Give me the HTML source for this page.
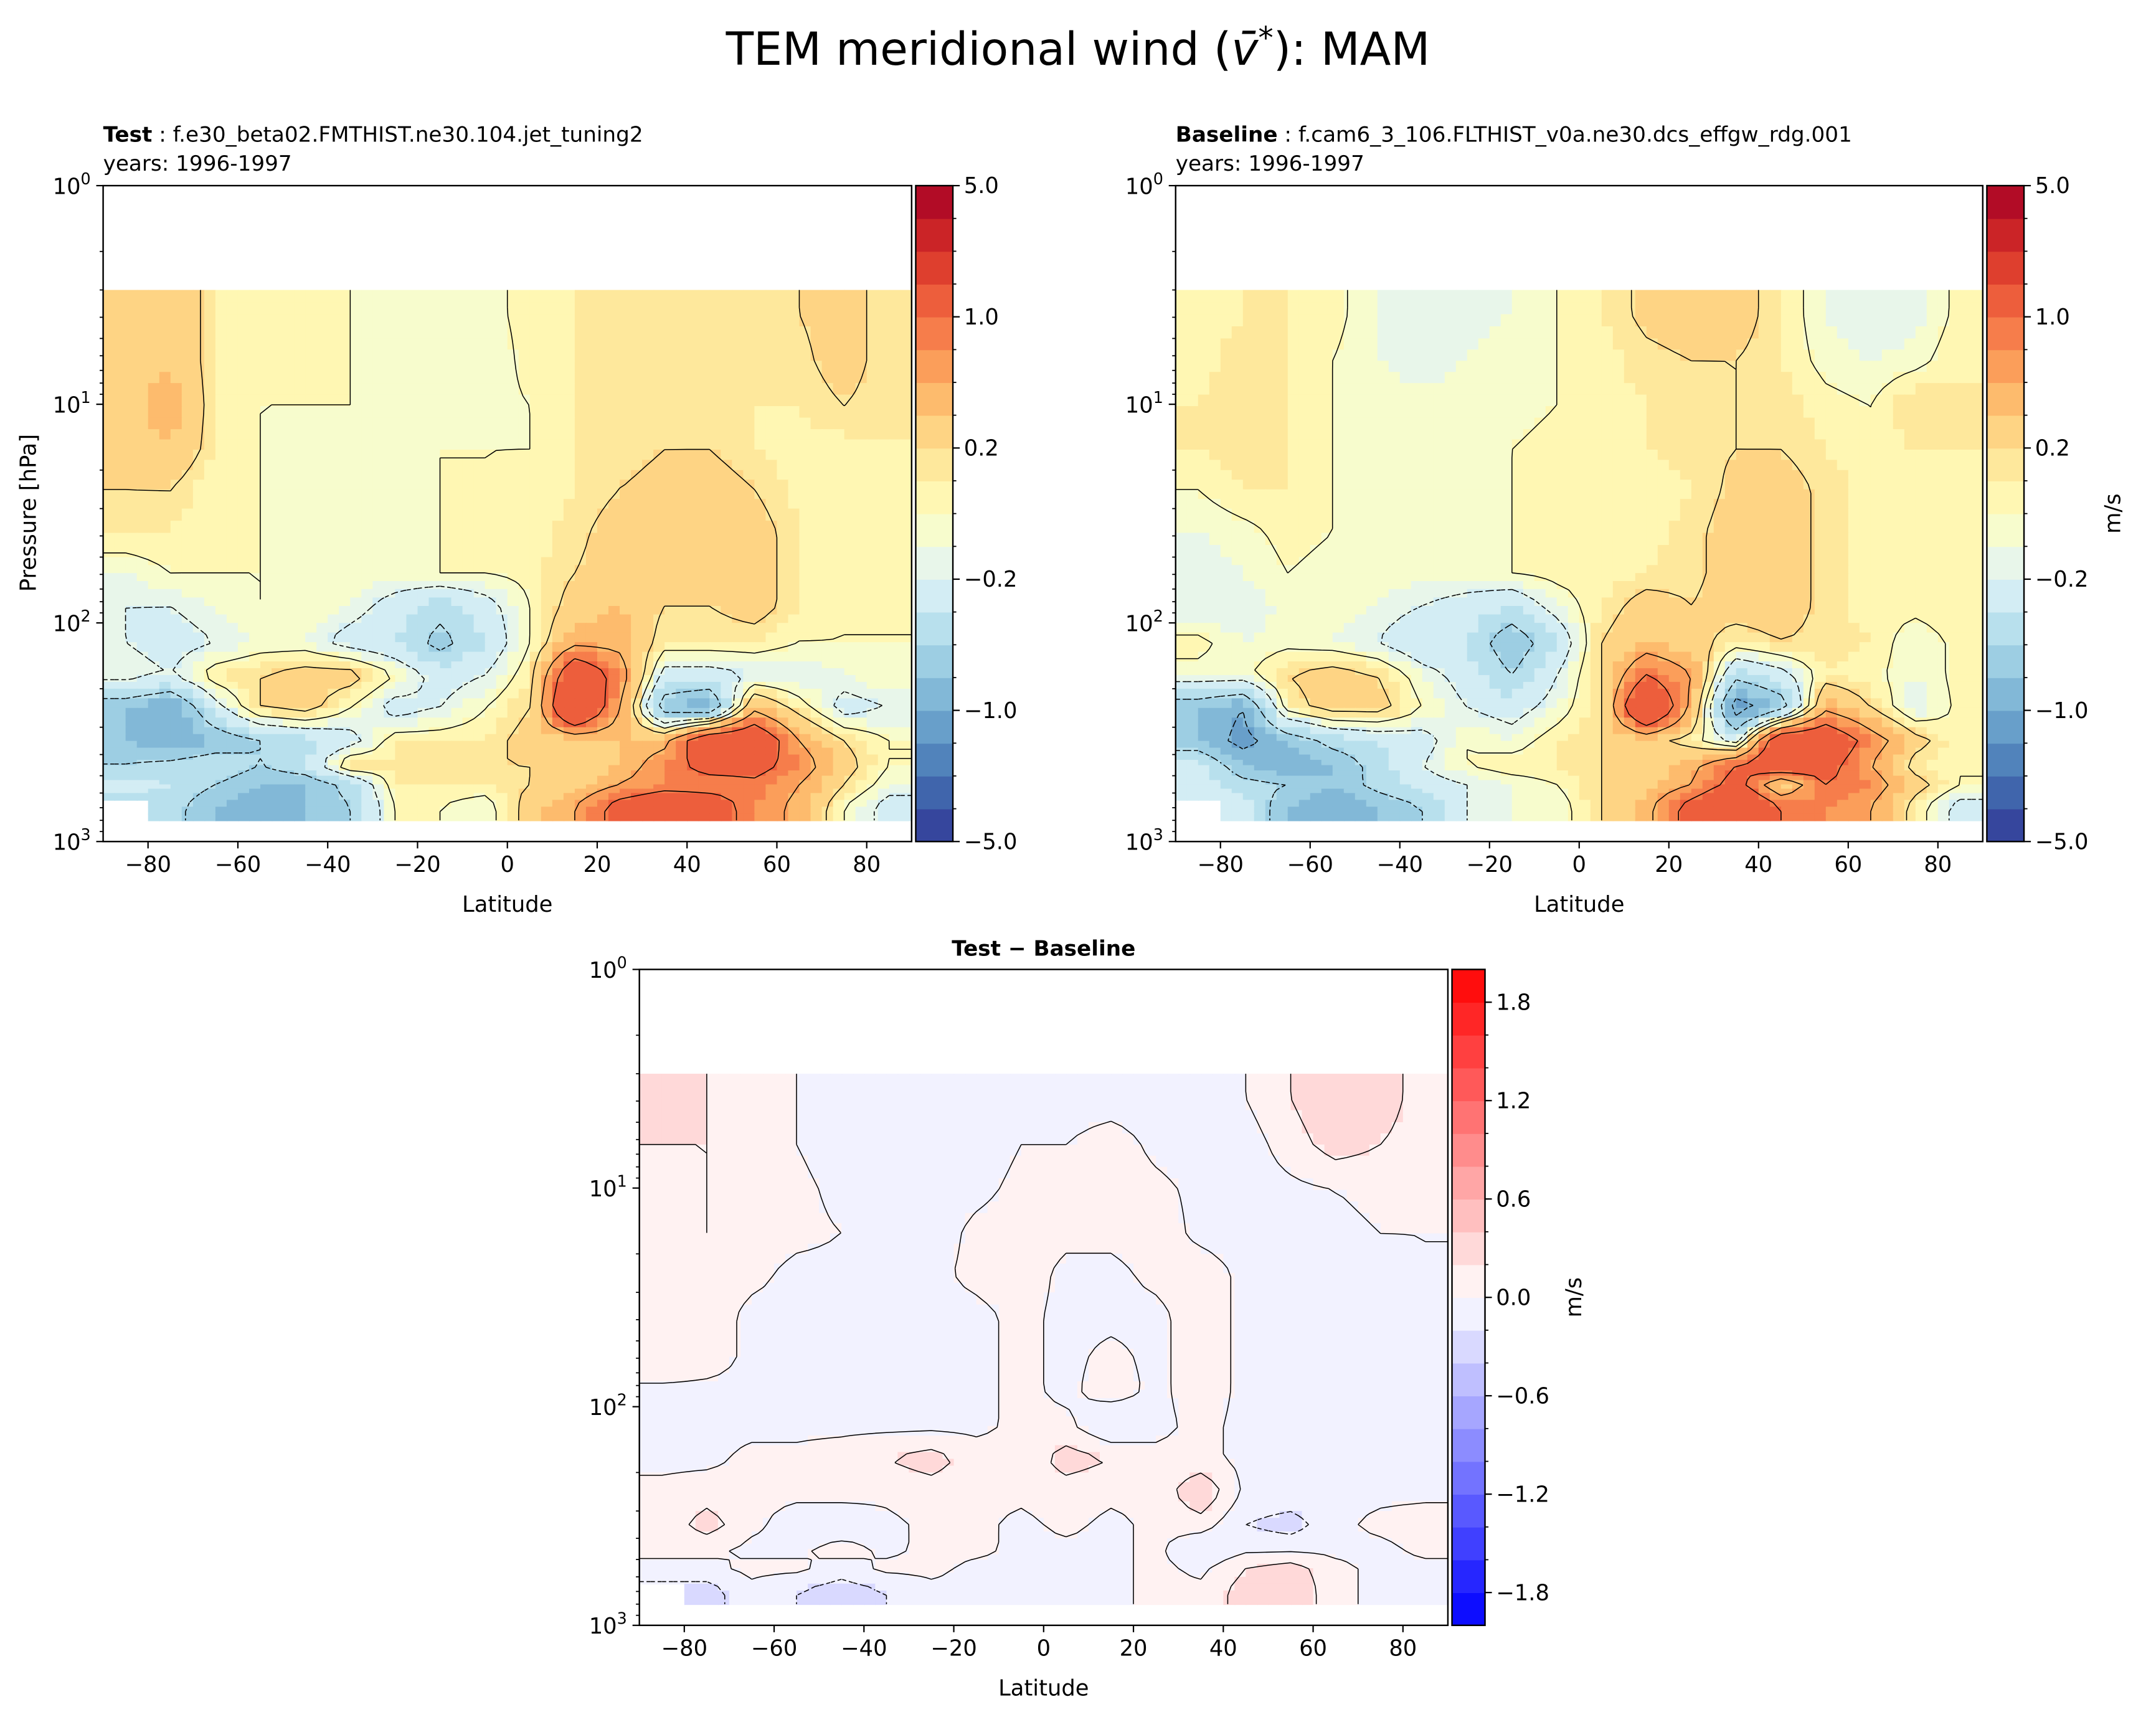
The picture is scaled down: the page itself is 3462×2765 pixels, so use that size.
<!DOCTYPE html>
<html><head><meta charset="utf-8"><style>
html,body{margin:0;padding:0;background:#fff;}
svg{display:block;font-family:"DejaVu Sans","Liberation Sans",sans-serif;}
</style></head><body>
<svg id="fig" width="3462" height="2765" viewBox="0 0 1568 1252.3" preserveAspectRatio="none" xmlns="http://www.w3.org/2000/svg">
<text x="784" y="47" font-size="33" text-anchor="middle">TEM meridional wind (<tspan font-style="italic">v̄</tspan><tspan dy="-12" font-size="22">*</tspan><tspan dy="12">): MAM</tspan></text>
<text x="75" y="103" font-size="15.5"><tspan font-weight="bold">Test</tspan> : f.e30_beta02.FMTHIST.ne30.104.jet_tuning2</text>
<text x="75" y="124" font-size="15.5">years: 1996-1997</text>
<text x="855" y="103" font-size="15.5"><tspan font-weight="bold">Baseline</tspan> : f.cam6_3_106.FLTHIST_v0a.ne30.dcs_effgw_rdg.001</text>
<text x="855" y="124" font-size="15.5">years: 1996-1997</text>
<text x="759" y="695" font-size="15.5" font-weight="bold" text-anchor="middle">Test − Baseline</text>
<g id="layer"></g>
</svg>
<script>
// ---- data ----
const lats = [-85,-75,-65,-55,-45,-35,-25,-15,-5,5,15,25,35,45,55,65,75,85];
const pEdges = [3,5,8,13,20,30,50,70,100,150,200,300,400,500,600,800];
const testVals = [
[0.3,0.4,0.1,0,0,0,-0.1,-0.1,-0.05,0.05,0.1,0.1,0.1,0.1,0.1,0.2,0.3,0.1],
[0.3,0.4,0.1,0,0,0,-0.05,-0.1,-0.1,0.05,0.1,0.1,0.1,0.1,0.1,0.15,0.3,0.1],
[0.3,0.5,0.1,0,0,0,0,-0.05,-0.05,0,0.1,0.1,0.15,0.15,0.1,0.1,0.2,0.1],
[0.3,0.4,0.1,0,-0.05,-0.05,-0.05,0,0,0,0.1,0.15,0.2,0.2,0.1,0.05,0.05,0.1],
[0.2,0.2,0,0,-0.05,-0.05,-0.05,0,0,0.05,0.1,0.2,0.25,0.3,0.2,0.05,0,0.05],
[0.1,0.1,0,0,-0.05,-0.05,-0.05,0,0,0.05,0.15,0.3,0.3,0.3,0.3,0.1,0,0],
[-0.1,0,0,0,-0.05,-0.05,-0.05,0,0,0.05,0.2,0.3,0.3,0.3,0.3,0.1,0,0],
[-0.2,-0.2,-0.1,0,0,-0.1,-0.3,-0.5,-0.3,0,0.3,0.4,0.2,0.2,0.3,0.1,0,0],
[-0.2,-0.3,-0.2,-0.1,-0.1,-0.3,-0.4,-0.7,-0.4,0,0.5,0.5,0.1,0.1,0.1,0,0,0],
[-0.1,-0.2,0.1,0.2,0.3,0.3,0,-0.3,-0.2,0.1,1.5,0.8,-0.3,-0.3,-0.2,-0.2,-0.1,0],
[-0.8,-1,-0.3,0.2,0.3,0,-0.3,-0.2,0,0.2,1.8,0.6,-0.8,-1.0,0.5,0.1,-0.3,-0.2],
[-0.8,-1,-0.8,-0.6,-0.5,-0.3,0.1,0.1,0.1,0.3,0.3,0.4,0.5,1.5,1.5,0.6,0.2,0],
[-0.6,-0.5,-0.4,-0.6,-0.4,0.2,0.1,0.2,0.2,0.2,0.2,0.4,0.8,1.2,1.2,0.8,0.3,0],
[-0.3,-0.4,-0.6,-0.8,-0.8,-0.5,0.1,0.1,0.1,0.2,0.3,0.6,0.8,0.8,0.9,0.6,0.2,-0.1],
[null,-0.5,-0.8,-1,-0.8,-0.6,0,0,-0.1,0.3,0.6,1.2,1.5,1.3,0.8,0.5,0,-0.3]
];
const baseVals = [
[0.05,0.1,0.1,0.05,-0.1,-0.15,-0.15,-0.1,0,0.1,0.25,0.3,0.3,0.1,-0.1,-0.2,-0.15,0.05],
[0.05,0.15,0.1,0,-0.1,-0.15,-0.1,-0.05,0,0.05,0.15,0.2,0.2,0.1,-0.05,-0.1,-0.05,0.1],
[0.1,0.2,0.1,0,-0.05,-0.05,-0.05,-0.05,0,0.05,0.1,0.15,0.2,0.15,0.05,0,0.2,0.1],
[0.1,0.15,0.1,0,-0.05,-0.05,-0.05,0,0.05,0.05,0.1,0.15,0.2,0.2,0.1,0.05,0.1,0.1],
[0,0.1,0.1,0,-0.05,-0.05,-0.05,0,0.05,0.05,0.05,0.1,0.25,0.3,0.15,0.05,0,0.05],
[-0.1,-0.05,0.05,0,-0.05,-0.05,-0.05,0,0.05,0.05,0.05,0.15,0.3,0.3,0.15,0.05,0,0.05],
[-0.2,-0.1,0,-0.05,-0.05,-0.05,-0.05,0,0.05,0.05,0.1,0.15,0.3,0.3,0.15,0.05,0.05,0.1],
[-0.2,-0.2,-0.05,-0.05,-0.1,-0.2,-0.3,-0.4,-0.1,0.1,0.3,0.2,0.3,0.3,0.15,0.05,0.05,0.1],
[0.05,-0.1,-0.05,-0.1,-0.2,-0.4,-0.4,-0.8,-0.4,0.2,0.4,0.3,0.1,0.2,0.15,0.1,-0.1,0.05],
[-0.05,-0.05,0.2,0.3,0.2,-0.1,-0.3,-0.6,-0.2,0.2,1.0,0.6,-0.5,-0.3,0.1,0.05,-0.1,0.05],
[-0.8,-1.0,0.1,0.3,0.3,0,-0.2,-0.3,-0.1,0.2,1.8,0.5,-1.2,-0.8,0.5,0.2,-0.2,0.05],
[-0.8,-1.1,-0.8,-0.5,-0.4,-0.3,0,-0.1,0.1,0.2,0.3,0.1,-0.3,1.5,1.5,0.8,0.3,0],
[-0.3,-0.8,-1,-0.8,-0.5,-0.2,0,0.1,0.1,0.2,0.3,0.5,1.0,1.5,1.2,0.6,0.1,0],
[-0.3,-0.5,-0.6,-0.8,-0.5,-0.3,-0.2,-0.1,0,0.2,0.3,0.6,1.2,0.2,1.0,0.8,0.3,0],
[null,-0.3,-0.8,-1,-0.8,-0.6,-0.2,-0.1,-0.1,0.2,0.5,1.2,1.8,1.0,0.8,0.6,0.1,-0.3]
];
const diffVals = [
[0.2,0.2,0,0,-0.1,-0.1,-0.1,-0.1,-0.1,-0.1,-0.1,-0.1,-0.1,0,0.2,0.4,0.3,0.1],
[0.2,0.2,0.1,0,-0.1,-0.1,-0.1,-0.1,0,0,0.1,-0.05,-0.1,-0.1,0.1,0.3,0.2,0.1],
[0.1,0.2,0.1,0.05,-0.05,-0.1,-0.1,-0.05,0.05,0.05,0.1,0.05,-0.05,-0.1,-0.05,0,0.05,0.1],
[0.1,0.2,0.1,0.05,0,-0.05,-0.1,0.05,0.1,0.05,0.05,0.1,-0.05,-0.1,-0.05,-0.05,0,0],
[0.1,0.1,0.05,-0.05,-0.05,-0.05,-0.05,0.05,0.1,-0.05,-0.05,0.05,0.1,-0.05,-0.05,-0.05,-0.05,0],
[0.1,0.1,-0.05,-0.05,-0.05,-0.05,-0.05,-0.05,0.05,-0.05,-0.05,-0.05,0.1,-0.05,-0.05,-0.05,-0.05,-0.05],
[0.2,0.1,-0.05,-0.05,-0.05,-0.05,-0.05,-0.05,0.05,-0.05,0.05,-0.05,0.1,-0.05,-0.05,-0.05,-0.05,-0.05],
[-0.05,-0.05,-0.05,-0.05,-0.05,-0.05,-0.05,-0.05,0.05,-0.05,0.1,-0.05,0.1,-0.05,-0.05,-0.05,-0.05,-0.05],
[-0.05,-0.05,-0.05,-0.05,-0.05,-0.05,-0.05,-0.05,0.05,0.05,-0.2,-0.05,0.05,-0.05,-0.05,-0.05,-0.05,-0.05],
[-0.05,-0.05,0.05,0.05,0.1,0.2,0.3,0.1,0.05,0.3,0.2,0.05,0.05,-0.05,-0.05,-0.05,-0.05,-0.05],
[0.05,0.1,0.05,0.05,0.1,0.05,0.1,0.05,0.05,0.1,0.05,0.05,0.4,-0.05,-0.05,-0.05,-0.05,-0.05],
[0.05,0.3,0.05,-0.1,-0.2,-0.05,0.05,0.05,-0.05,0.05,-0.05,0.05,0.1,-0.2,-0.3,-0.05,0.05,0.1],
[0.05,0.05,-0.05,-0.05,0.1,-0.05,0.05,0.05,-0.05,-0.05,-0.05,0.05,-0.2,-0.05,-0.05,-0.05,-0.05,0.05],
[-0.05,-0.05,0.05,0.05,-0.1,0.05,0.05,-0.05,-0.05,-0.05,-0.05,0.05,-0.05,0.2,0.3,0.05,-0.05,-0.05],
[null,-0.3,-0.05,-0.2,-0.3,-0.2,-0.05,-0.05,-0.05,-0.05,-0.05,0.05,0.05,0.3,0.4,0.05,-0.05,-0.05]
];
const mainTicks = [-5,-1,-0.2,0.2,1,5];
const mainTickLabels = ["−5.0","−1.0","−0.2","0.2","1.0","5.0"];
const mainContourLevels = [-1,-0.6,-0.2,0,0.2,0.6,1];
const diffTicks = [-1.8,-1.2,-0.6,0,0.6,1.2,1.8];
const diffTickLabels = ["−1.8","−1.2","−0.6","0.0","0.6","1.2","1.8"];
const diffContourLevels = [-0.2,0,0.2];
const latTicks = [-80,-60,-40,-20,0,20,40,60,80];

// ---- helpers ----
const NS="http://www.w3.org/2000/svg";
const layer=document.getElementById('layer');
function mk(tag,attrs,parent){const e=document.createElementNS(NS,tag);for(const k in attrs)e.setAttribute(k,attrs[k]);(parent||layer).appendChild(e);return e;}
function lerpC(stops,t){t=Math.max(0,Math.min(1,t));const n=stops.length-1;const i=Math.min(n-1,Math.floor(t*n));const f=t*n-i;const a=stops[i],b=stops[i+1];
 return 'rgb('+[0,1,2].map(k=>Math.round(a[k]+(b[k]-a[k])*f)).join(',')+')';}
const rdylbu=[[49,54,149],[69,117,180],[116,173,209],[171,217,233],[224,243,248],[255,255,191],[254,224,144],[253,174,97],[244,109,67],[215,48,39],[165,0,38]];
const bwr=[[0,0,255],[255,255,255],[255,0,0]];
function mainPos(v){
 for(let i=0;i<mainTicks.length-1;i++){if(v<=mainTicks[i+1]||i==mainTicks.length-2){const f=(v-mainTicks[i])/(mainTicks[i+1]-mainTicks[i]);return Math.max(0,Math.min(5,i+f));}}
}
function mainColorBand(b){return lerpC(rdylbu,(b+0.5)/20);}
function mainColor(v){let b=Math.floor(mainPos(v)*4);b=Math.max(0,Math.min(19,b));return mainColorBand(b);}
function diffColorBand(b){return lerpC(bwr,(b+0.5)/20);}
function diffColor(v){let b=Math.floor((v+2)/0.2);b=Math.max(0,Math.min(19,b));return diffColorBand(b);}

const lpc=[];for(let i=0;i<pEdges.length-1;i++)lpc.push((Math.log10(pEdges[i])+Math.log10(pEdges[i+1]))/2);
function sample(grid,lat,lp){
 let j=(lat-lats[0])/10;j=Math.max(0,Math.min(lats.length-1.0001,j));const j0=Math.floor(j),fj=j-j0;
 let i=0;while(i<lpc.length-2&&lp>lpc[i+1])i++;let fi=(lp-lpc[i])/(lpc[i+1]-lpc[i]);fi=Math.max(0,Math.min(1,fi));
 const g=(r,c)=>{const v=grid[r][Math.min(c,lats.length-1)];return v==null?grid[r][Math.min(c+1,lats.length-1)]:v;};
 const a=g(i,j0)*(1-fj)+g(i,j0+1)*fj,b=g(i+1,j0)*(1-fj)+g(i+1,j0+1)*fj;return a*(1-fi)+b*fi;
}

function panel(opt){
 const {x0,x1,y0,y1,grid,colorFn,name,levels}=opt;
 const xs=lat=>x0+(lat+90)/180*(x1-x0);
 const ys=p=>y0+Math.log10(p)/3*(y1-y0);
 const g=mk('g',{});
 
 
 const sub=4;
 for(let r=0;r<pEdges.length-1;r++){
  const la=Math.log10(pEdges[r]),lb=Math.log10(pEdges[r+1]);
  for(let s=0;s<sub;s++){
   const p0=Math.pow(10,la+(lb-la)*s/sub),p1=Math.pow(10,la+(lb-la)*(s+1)/sub);
   const lpm=(Math.log10(p0)+Math.log10(p1))/2;
   for(let c=0;c<lats.length;c++){
    if(grid[r][c]==null && r==pEdges.length-2 && s>=1) continue;
    for(let t=0;t<sub;t++){
     const la0=lats[c]-5+10*t/sub,la1=la0+10/sub;
     const v=sample(grid,(la0+la1)/2,lpm);
     const rc=mk('rect',{x:xs(la0).toFixed(2),y:ys(p0).toFixed(2),width:(xs(la1)-xs(la0)+0.6).toFixed(2),height:(ys(p1)-ys(p0)+0.6).toFixed(2),fill:colorFn(v)},g);
     
     
    }
   }
  }
 }
 // contours via marching squares on node grid
 const NX=72, lpTop=Math.log10(pEdges[0]), lpBot=Math.log10(pEdges[pEdges.length-1]), NY=60;
 const nodeLat=i=>-90+180*i/NX, nodeLp=j=>lpTop+(lpBot-lpTop)*j/NY;
 const V=[];for(let j=0;j<=NY;j++){V.push([]);for(let i=0;i<=NX;i++)V[j].push(sample(grid,nodeLat(i),nodeLp(j)));}
 const cg=mk('g',{});
 
 
 levels.forEach(L=>{
  let d='';
  const P=(i,j)=>[xs(nodeLat(i)),ys(Math.pow(10,nodeLp(j)))];
  for(let j=0;j<NY;j++)for(let i=0;i<NX;i++){
   const c=[V[j][i],V[j][i+1],V[j+1][i+1],V[j+1][i]];
   const pts=[[i,j],[i+1,j],[i+1,j+1],[i,j+1]];
   const cr=[];
   for(let e=0;e<4;e++){const a=c[e]-L,b=c[(e+1)%4]-L;if((a<0)!==(b<0)){const f=a/(a-b);const pa=P(...pts[e]),pb=P(...pts[(e+1)%4]);cr.push([pa[0]+(pb[0]-pa[0])*f,pa[1]+(pb[1]-pa[1])*f]);}}
   for(let k=0;k+1<cr.length;k+=2)d+='M'+cr[k][0].toFixed(1)+' '+cr[k][1].toFixed(1)+'L'+cr[k+1][0].toFixed(1)+' '+cr[k+1][1].toFixed(1);
  }
  if(d){const pth=mk('path',{d:d,fill:'none',stroke:'#000','stroke-width':0.7,'stroke-dasharray':L<0?'3 2':'none'},cg);
   
   }
 });
 const fr=mk('rect',{x:x0,y:y0,width:x1-x0,height:y1-y0,fill:'none',stroke:'#000','stroke-width':1.1});
 
 
 latTicks.forEach(l=>{mk('line',{x1:xs(l),x2:xs(l),y1:y1,y2:y1+5,stroke:'#000','stroke-width':1});
  const t=mk('text',{x:xs(l),y:y1+22,'font-size':16,'text-anchor':'middle'});t.textContent=(l<0?'−':'')+Math.abs(l);
  
  });
 const xl=mk('text',{x:(x0+x1)/2,y:y1+51,'font-size':16,'text-anchor':'middle'});xl.textContent='Latitude';
 
 
 for(let d=0;d<=3;d++){const y=ys(Math.pow(10,d));mk('line',{x1:x0-5,x2:x0,y1:y,y2:y,stroke:'#000','stroke-width':1});
  const t=mk('text',{x:x0-9,y:y+6,'font-size':16,'text-anchor':'end'});t.innerHTML='10<tspan dy="-7" font-size="11.5">'+d+'</tspan>';
  
  
  if(d<3)for(let m=2;m<=9;m++){const ym=ys(m*Math.pow(10,d));mk('line',{x1:x0-2.5,x2:x0,y1:ym,y2:ym,stroke:'#000','stroke-width':0.8});}
 }
 return {xs,ys};
}

function colorbar(opt){
 const {x0,x1,y0,y1,nb,colorBand,ticks,labels,posFn,name,unit}=opt;
 const h=(y1-y0)/nb;
 for(let b=0;b<nb;b++){const r=mk('rect',{x:x0,y:(y1-(b+1)*h).toFixed(2),width:x1-x0,height:(h+0.4).toFixed(2),fill:colorBand(b)});
  
  }
 const f=mk('rect',{x:x0,y:y0,width:x1-x0,height:y1-y0,fill:'none',stroke:'#000','stroke-width':1.1});
 
 
 ticks.forEach((v,i)=>{const y=y1-posFn(v)*(y1-y0);mk('line',{x1:x1,x2:x1+5,y1:y,y2:y,stroke:'#000','stroke-width':1});
  const t=mk('text',{x:x1+8,y:y+5.5,'font-size':16});t.textContent=labels[i];
  
  });
 for(let b=1;b<nb;b++){const y=y1-b*h;mk('line',{x1:x1,x2:x1+2.5,y1:y,y2:y,stroke:'#000','stroke-width':0.8});}
 if(unit){const t=mk('text',{x:x1+70,y:(y0+y1)/2,'font-size':16,'text-anchor':'middle',transform:'rotate(-90 '+(x1+70)+' '+((y0+y1)/2)+')'});t.textContent='m/s';
  
  }
}

panel({x0:75,x1:663,y0:135,y1:612,grid:testVals,colorFn:mainColor,name:'test',levels:mainContourLevels});
panel({x0:855,x1:1442,y0:135,y1:612,grid:baseVals,colorFn:mainColor,name:'baseline',levels:mainContourLevels});
panel({x0:465,x1:1053,y0:705,y1:1182,grid:diffVals,colorFn:diffColor,name:'diff',levels:diffContourLevels});
colorbar({x0:666,x1:693,y0:135,y1:612,nb:20,colorBand:mainColorBand,ticks:mainTicks,labels:mainTickLabels,posFn:v=>mainPos(v)/5,name:'test',unit:false});
colorbar({x0:1445,x1:1472,y0:135,y1:612,nb:20,colorBand:mainColorBand,ticks:mainTicks,labels:mainTickLabels,posFn:v=>mainPos(v)/5,name:'baseline',unit:true});
colorbar({x0:1056,x1:1080,y0:705,y1:1182,nb:20,colorBand:diffColorBand,ticks:diffTicks,labels:diffTickLabels,posFn:v=>(v+2)/4,name:'diff',unit:true});
const yl=mk('text',{x:26,y:373,'font-size':16,'text-anchor':'middle',transform:'rotate(-90 26 373)'});yl.textContent='Pressure [hPa]';


</script>
</body></html>
